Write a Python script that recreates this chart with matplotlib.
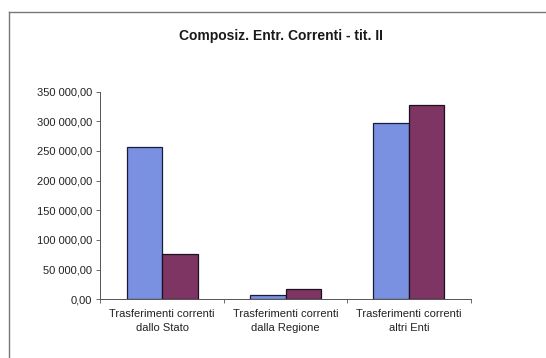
import matplotlib
matplotlib.use("Agg")
import matplotlib.pyplot as plt
from matplotlib.ticker import FuncFormatter, FixedLocator
from matplotlib.lines import Line2D
import numpy as np

plt.rcParams['font.family'] = ['Liberation Sans', 'DejaVu Sans']

categories = ["Trasferimenti correnti\ndallo Stato",
              "Trasferimenti correnti\ndalla Regione",
              "Trasferimenti correnti\naltri Enti"]
serie_1 = [257000, 7300, 297500]
serie_2 = [76400, 17400, 327500]

blu = "#7a90e0"
viola = "#7e3563"


def euro_it(v, pos):
    s = "{:,.2f}".format(v)
    return s.replace(",", " ").replace(".", ",")


fig = plt.figure(figsize=(5.46, 3.58), dpi=100)
ax = fig.add_axes([0.184, 0.164, 0.678, 0.580])

x = np.arange(len(categories))
w = 0.288
ax.bar(x - w / 2, serie_1, w, color=blu, edgecolor="#1a1a3a", linewidth=0.9)
ax.bar(x + w / 2, serie_2, w, color=viola, edgecolor="#1a1020", linewidth=0.9)

ax.set_xlim(-0.5, len(categories) - 0.5)
ax.set_ylim(0, 350000)
ax.yaxis.set_major_locator(FixedLocator(np.arange(0, 350001, 50000)))
ax.yaxis.set_major_formatter(FuncFormatter(euro_it))

# category labels between boundary ticks
ax.set_xticks(np.arange(-0.5, len(categories), 1.0))
ax.set_xticklabels([])
ax.set_xticks(x, minor=True)
ax.set_xticklabels(categories, minor=True, fontsize=8, color="#222222",
                   linespacing=1.55)
ax.tick_params(axis="x", which="minor", length=0, pad=7)
ax.tick_params(axis="x", which="major", length=3, width=0.6, color="#555555")
ax.tick_params(axis="y", length=3, width=0.6, color="#555555",
               labelsize=8, labelcolor="#222222", pad=3)

for s in ("top", "right"):
    ax.spines[s].set_visible(False)
for s in ("left", "bottom"):
    ax.spines[s].set_linewidth(0.7)
    ax.spines[s].set_color("#555555")

fig.text(0.515, 0.9, "Composiz. Entr. Correnti - tit. II", ha="center",
         va="center", fontsize=10, fontweight="bold", color="#1a1a1a")

# outer chart frame
fig.add_artist(Line2D([8.5 / 546, 8.5 / 546], [0, 1 - 11.5 / 358],
                      color="#777777", linewidth=1.0))
fig.add_artist(Line2D([8.5 / 546, 1], [1 - 11.5 / 358, 1 - 11.5 / 358],
                      color="#777777", linewidth=1.0))

fig.savefig("out.png", dpi=100, facecolor="white")
